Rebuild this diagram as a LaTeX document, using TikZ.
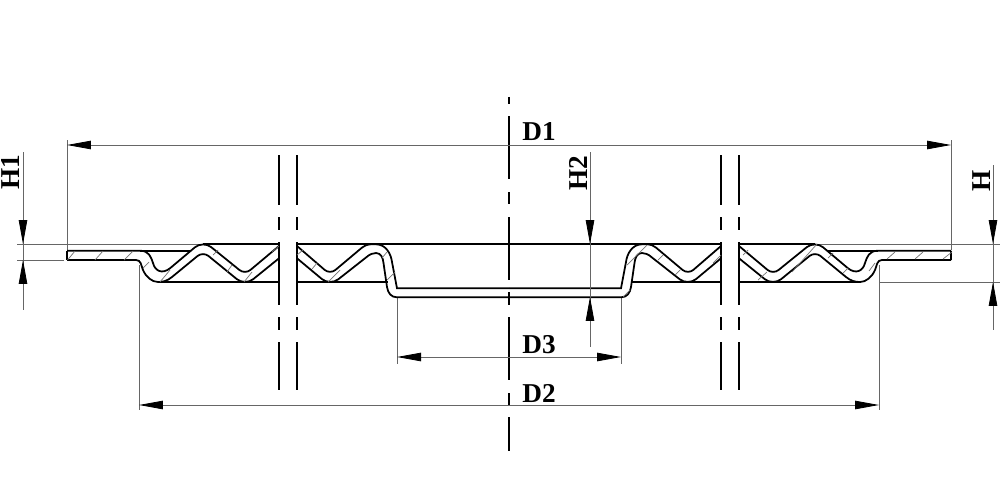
\documentclass[tikz,border=0pt]{standalone}
\usepackage{fontspec}
\setmainfont{Liberation Serif}
\usetikzlibrary{arrows.meta}
\tikzset{
  sheet/.style={line width=1pt,black},
  axisline/.style={line width=0.85pt,black},
  hatchline/.style={line width=0.4pt,black!55},
  thinline/.style={line width=0.45pt,black!60},
  dimline/.style={line width=0.45pt,black!60,{Triangle[length=0.48cm,width=0.17cm,black]}-{Triangle[length=0.48cm,width=0.17cm,black]}},
  tipend/.style={line width=0.45pt,black!60,-{Triangle[length=0.48cm,width=0.17cm,black]}},
  dimlabel/.style={font=\bfseries\fontsize{15.5}{15.5}\selectfont,inner sep=0pt}
}
\begin{document}
\begin{tikzpicture}[x=0.02cm,y=-0.02cm]
  \useasboundingbox (0,0) rectangle (1000,500);
  % extension lines
  \draw[thinline] (67,140) -- (67,250);
  \draw[thinline] (951,140) -- (951,250);
  \draw[thinline] (17,244.3) -- (200,244.3);
  \draw[thinline] (17,260) -- (64,260);
  \draw[thinline] (818,244.3) -- (1000,244.3);
  \draw[thinline] (880,282) -- (1000,282);
  \draw[thinline] (139,265) -- (139,410);
  \draw[thinline] (879,265) -- (879,410);
  \draw[thinline] (397,298) -- (397,364);
  \draw[thinline] (621,298) -- (621,364);
  % center line and bolt holes
  \foreach \y/\z in {97/104,116/179,192/204,217/280,292/305,317/380,393/406,417/451}
    \draw[axisline] (509,\y) -- (509,\z);
  \foreach \x in {279,297,721,739}{
    \foreach \y/\z in {155/205,217/230,242/305,317/330,342/390}
      \draw[axisline] (\x,\y) -- (\x,\z);
  }
  % profile, left half and mirrored right half
  \foreach \s/\o in {1/0,-1/1018}{
    \begin{scope}[shift={(\o,0)},xscale=\s]
      \draw[sheet] (67,250.7) -- (67,260);
      \draw[sheet] (67,250.7) -- (140,250.7) .. controls (149,250.7) and (151,257) .. (153,263)
        .. controls (155,271) and (162,274.5) .. (170,268.3)
        [rounded corners=6pt] -- (203,240.5) [rounded corners=4pt] -- (245,274.5) [sharp corners] -- (279,246);
      \draw[sheet] (67,260) -- (136,260) .. controls (141,260) and (141,265) .. (143,270)
        .. controls (146,277) and (152,282) .. (158,282) .. controls (163,282) and (167,281) .. (172,277)
        [rounded corners=4pt] -- (203,251.5) [rounded corners=6pt] -- (245,285.8) [sharp corners] -- (279,258.3);
      \draw[sheet] (297,246) [rounded corners=4pt] -- (330,274.5) [sharp corners] -- (362,247.6)
        .. controls (367,243.5) and (372,244.3) .. (376,244.3) .. controls (386,244.3) and (391,254) .. (392,262)
        -- (397,288.3) -- (509,288.3);
      \draw[sheet] (297,258.3) [rounded corners=6pt] -- (330,285.8) [sharp corners] -- (366,257.5)
        .. controls (370,254) and (373,253) .. (376,253) .. controls (381,253) and (383,258) .. (383.5,263)
        -- (387,287) .. controls (388,293) and (391,297.3) .. (397,297.3) -- (509,297.3);
      \draw[sheet] (140,250.7) -- (190,250.7);
      \draw[sheet] (203,244.3) -- (279,244.3);
      \draw[sheet] (297,244.3) -- (509,244.3);
      \draw[sheet] (160,282) -- (279,282);
      \draw[sheet] (297,282) -- (387.5,282);
    \end{scope}
  }
  % hatching
  \foreach \a/\b/\c/\d in {67.5/260/75/251,95/260/103/251,124/260/133/251,143/268/149/262,160/282/170/270,
    213/255/218/250,227/272/232/265,244/282/252/272,272/252/279/246,297/255/303/250,312/269/317/263,328/282/340/270,
    382/258/387/252,387/280/395/272,623/297/630/290,627/265/647/245,658/260/663/255,675/275/680/270,713/263/721/255,
    743/255/748/250,758/280/767/272,792/272/817/244,828/258/833/253,843/273/848/268,869/271/875/263,
    887/259/895/252,915/259/923/252,943/259/952/252}
    \draw[hatchline] (\a,\b) -- (\c,\d);
  % dimensions
  \coordinate (d1l) at (67,145);
  \coordinate (d1r) at (951,145);
  \coordinate (d2l) at (139,405);
  \coordinate (d2r) at (879,405);
  \coordinate (d3l) at (397,357);
  \coordinate (d3r) at (621,357);
  \draw[dimline] (d1l) -- (d1r);
  \draw[dimline] (d2l) -- (d2r);
  \draw[dimline] (d3l) -- (d3r);
  \draw[thinline] (23,152) -- (23,310);
  \draw[tipend] (23,215) -- (23,244);
  \draw[tipend] (23,289) -- (23,260);
  \draw[thinline] (590,152) -- (590,347);
  \draw[tipend] (590,215) -- (590,244);
  \draw[tipend] (590,325) -- (590,297);
  \draw[thinline] (993,165) -- (993,330);
  \draw[tipend] (993,215) -- (993,244);
  \draw[tipend] (993,310) -- (993,282);
  % labels
  \node[dimlabel] (D1) at (539,132) {D1};
  \node[dimlabel] (D2) at (539,393.5) {D2};
  \node[dimlabel] (D3) at (539,345) {D3};
  \node[dimlabel,rotate=90] (H1) at (11,172.5) {H1};
  \node[dimlabel,rotate=90] (H2) at (578,173.5) {H2};
  \node[dimlabel,rotate=90] (H) at (981.5,181) {H};
\end{tikzpicture}
\end{document}
